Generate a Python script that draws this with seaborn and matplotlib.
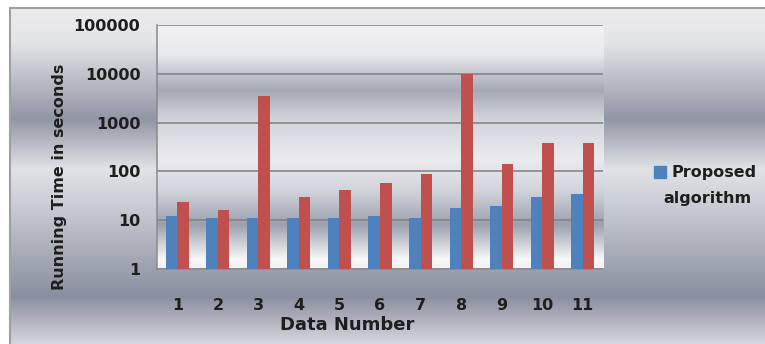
import numpy as np
import pandas as pd
import matplotlib
matplotlib.use("Agg")
import matplotlib.pyplot as plt
from matplotlib.patches import Patch
import seaborn as sns

sns.set_style("white")
plt.rcParams['font.family'] = ['DejaVu Sans']

# data (log scale)
data_numbers = [str(i) for i in range(1, 12)]
proposed = [12, 11, 11, 11, 11, 12, 11, 18, 20, 30, 34]
existing = [24, 16, 3500, 30, 42, 59, 89, 9800, 140, 390, 390]
series_names = ["Proposed algorithm", "Existing algorithm"]
ytick_vals = [1, 10, 100, 1000, 10000, 100000]

df = pd.DataFrame({
    "Data Number": data_numbers * 2,
    "Time": proposed + existing,
    "Algorithm": [series_names[0]] * 11 + [series_names[1]] * 11,
})

blue = "#4F81BD"
red = "#C0504D"
txt = "#1e1e1e"


def gradient(stops, n=400):
    # vertical gradient image, top to bottom
    pos = np.array([s[0] for s in stops])
    cols = np.array([s[1] for s in stops]) / 255.0
    t = np.linspace(0, 1, n)
    img = np.stack([np.interp(t, pos, cols[:, k]) for k in range(3)], axis=1)
    return img[:, None, :]


outer_stops = [(0.0, (236, 236, 238)), (0.10, (228, 229, 232)), (0.33, (145, 150, 165)),
               (0.48, (226, 227, 231)), (0.62, (194, 197, 206)), (0.86, (138, 143, 159)),
               (1.0, (214, 215, 221))]
inner_stops = [(0.0, (242, 242, 244)), (0.12, (233, 234, 237)), (0.27, (165, 169, 182)),
               (0.38, (208, 210, 217)), (0.55, (235, 235, 239)), (0.68, (210, 212, 219)),
               (0.82, (156, 160, 174)), (0.96, (248, 248, 249)), (1.0, (242, 242, 244))]

fig = plt.figure(figsize=(7.65, 3.44), dpi=100)

# outer chart area with gradient and border (top and left edges only visible)
bg = fig.add_axes([10 / 765, 0, 1 - 10 / 765, 1 - 8 / 344])
bg.imshow(gradient(outer_stops), aspect="auto", extent=[0, 1, 0, 1])
bg.set_xlim(0, 1)
bg.set_ylim(0, 1)
bg.axis("off")
bg.plot([0, 0, 1], [0, 1, 1], color="#a0a0a0", lw=1.5, clip_on=False)

ax = fig.add_axes([157 / 765, 1 - 269 / 344, 446 / 765, 244 / 344])
ax.set_zorder(2)
ax.patch.set_alpha(0)
ax.imshow(gradient(inner_stops), aspect="auto", extent=[0, 1, 0, 1],
          transform=ax.transAxes, zorder=0)

sns.barplot(data=df, x="Data Number", y="Time", hue="Algorithm",
            palette=[blue, red], width=0.57, saturation=1, log_scale=True,
            edgecolor="none", linewidth=0, ax=ax, legend=False, zorder=3)

ax.set_yscale("log")
ax.set_ylim(1, 100000)
ax.set_xlim(-0.5, 10.5)
ax.set_yticks(ytick_vals)
ax.set_yticklabels([str(v) for v in ytick_vals])
ax.yaxis.set_minor_locator(matplotlib.ticker.NullLocator())
ax.set_xticks(np.arange(-0.5, 11, 1), minor=True)
ax.yaxis.grid(True, which="major", color="#7f7f7f", lw=1.1, zorder=1)
ax.set_axisbelow(True)

for s in ["top", "right"]:
    ax.spines[s].set_visible(False)
for s in ["left", "bottom"]:
    ax.spines[s].set_color("#8a8a8a")
    ax.spines[s].set_linewidth(1.1)

ax.tick_params(axis="y", which="major", length=7, width=1, color="#8a8a8a",
               pad=5, labelsize=11.5, labelcolor=txt)
ax.tick_params(axis="x", which="major", length=0, pad=21, labelsize=11.5, labelcolor=txt)
ax.tick_params(axis="x", which="minor", length=5, width=1, color="#9a9a9a")
for lab in ax.get_xticklabels() + ax.get_yticklabels():
    lab.set_fontweight("bold")

ax.set_ylabel("Running Time in seconds", fontsize=11.5, fontweight="bold", color=txt)
ax.yaxis.set_label_coords((67 - 157) / 446, (269 - 177) / 244)
ax.set_xlabel("Data Number", fontsize=13, fontweight="bold", color=txt)
ax.xaxis.set_label_coords((347 - 157) / 446, (269 - 316) / 244)

# legend shows only the proposed series, label wrapped over two lines
first, second = series_names[0].split(" ")
leg = fig.legend(handles=[Patch(color=blue)], labels=[first],
                 loc="center left", bbox_to_anchor=(640 / 765, 1 - 173 / 344),
                 frameon=False, handlelength=0.75, handleheight=0.75,
                 handletextpad=0.3, prop={"size": 11.5, "weight": "bold"})
for t in leg.get_texts():
    t.set_color(txt)
fig.text(663 / 765, 1 - 198 / 344, second, fontsize=11.5, fontweight="bold",
         color=txt, ha="left", va="center")

fig.savefig("out.png", dpi=100)
